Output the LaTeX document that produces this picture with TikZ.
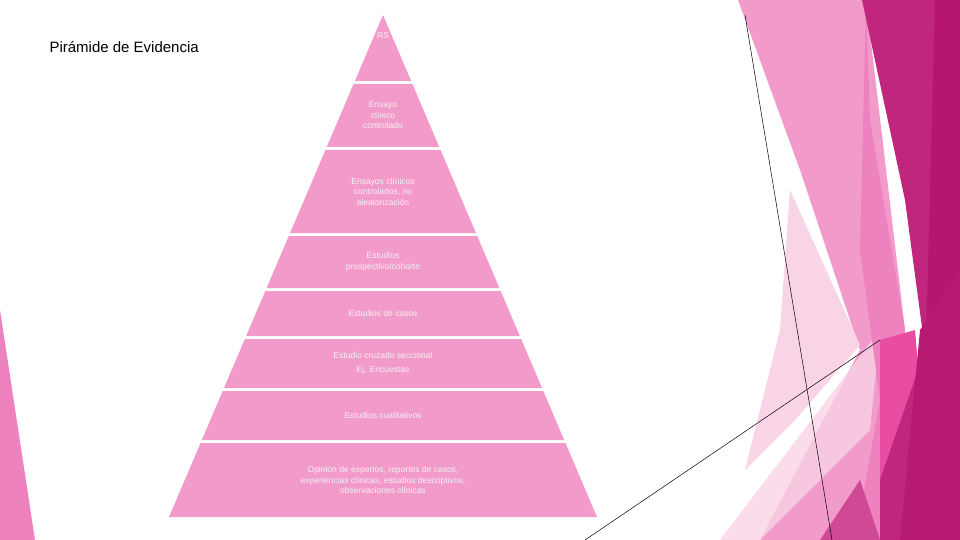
\documentclass[tikz,border=0pt]{standalone}
\usepackage{fontspec}
\setmainfont{Liberation Sans}
\usetikzlibrary{calc}
\definecolor{band}{HTML}{F29BCB}
\definecolor{pale}{HTML}{F9D3E6}
\definecolor{midpink}{HTML}{EE82BF}
\definecolor{hot}{HTML}{E84DA2}
\definecolor{magenta}{HTML}{C0267E}
\definecolor{deep}{HTML}{B5176E}
\definecolor{thin}{HTML}{D9A3C0}

% one band of the pyramid: top y, bottom y, name, text
\newcommand{\band}[4]{%
	\fill[band] ({383-0.4263*(#1-15)},#1) -- ({383+0.4263*(#1-15)},#1)
		-- ({383+0.4263*(#2-15)},#2) -- ({383-0.4263*(#2-15)},#2) -- cycle;
	\node[label] (#3) at (383,{(#1+#2)/2}) {#4};
}

\begin{document}
\begin{tikzpicture}[
x=1pt, y=-1pt,
label/.style = {
	font = \fontsize{8.5}{10.5}\selectfont,
	text = white!90!gray,
	align = center,
	inner sep = 0pt
},
title/.style = {
	font = \fontsize{15}{18}\selectfont,
	anchor = west
}
]
\useasboundingbox (0,0) rectangle (960,540);

% decoration on the right
\fill[band] (738,0) -- (866,0) -- (905,330) -- (880,540) -- (760,540) -- (860,350) -- (800,170) -- cycle;
\fill[pale] (790,190) -- (860,345) -- (795,420) -- (745,470) -- (780,330) -- cycle;
\fill[pale, opacity=.8] (720,540) -- (880,330) -- (870,430) -- (760,540) -- cycle;
\fill[midpink] (866,0) -- (870,120) -- (905,330) -- (880,540) -- (855,540) -- (880,400) -- (860,250) -- cycle;
\fill[hot] (880,340) -- (915,330) -- (925,450) -- (880,480) -- cycle;
\fill[magenta] (862,0) -- (960,0) -- (960,540) -- (880,540) -- (880,480) -- (925,350) -- (905,200) -- cycle;
\fill[deep] (935,0) -- (960,0) -- (960,540) -- (945,540) -- (925,380) -- cycle;
\fill[deep!80!magenta] (920,330) -- (960,270) -- (960,540) -- (900,540) -- cycle;
\fill[magenta!70!band] (820,540) -- (860,480) -- (880,540) -- cycle;
\draw[thin, line width=.5pt] (745,15) -- (832,540);
\draw[thin, line width=.5pt] (585,540) -- (880,340);

% left strip
\fill[midpink] (0,310) -- (35,540) -- (0,540) -- cycle;

\node[title] (heading) at (46,47) {Pirámide de Evidencia};

% pyramid
\band{15}{81}{rs}{RS\\[14pt]}
\band{84}{147}{ecc}{Ensayo\\clínico\\controlado}
\band{150}{233}{ecna}{Ensayos clínicos\\controlados, no\\aleatorización}
\band{236}{288}{prosp}{Estudios\\prospectivo/cohorte}
\band{291}{336}{casos}{Estudios de casos}
\band{339}{388}{cruz}{Estudio cruzado seccional\\[4pt]Ej. Encuestas}
\band{391}{440}{cual}{Estudios cualitativos}
\band{443}{517}{opin}{Opinión de expertos, reportes de casos,\\experiencias clínicas, estudios descriptivos,\\observaciones clínicas}
\end{tikzpicture}
\end{document}
